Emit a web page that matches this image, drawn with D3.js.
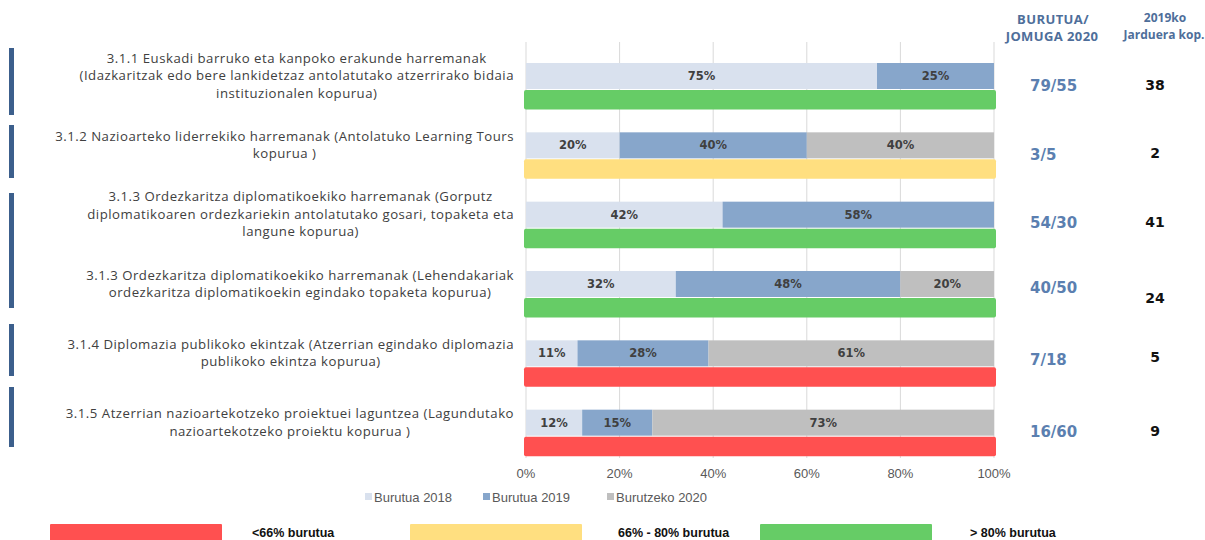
<!DOCTYPE html>
<html>
<head>
<meta charset="utf-8">
<script src="https://cdn.jsdelivr.net/npm/d3@7"></script>
<style>
    body { margin: 0; background: #fff; }
    svg { display: block; }
    .cat-label { font-family: "Open Sans", sans-serif; font-size: 13.2px; letter-spacing: 0.5px; fill: #404040; }
    .seg-label { font-family: "DejaVu Sans", sans-serif; font-size: 11.5px; font-weight: bold; fill: #404040; }
    .tick-label { font-family: "Liberation Sans", Arial, sans-serif; font-size: 13px; fill: #595959; }
    .legend-label { font-family: "Liberation Sans", Arial, sans-serif; font-size: 13px; fill: #595959; }
    .head { font-family: "Open Sans", sans-serif; font-size: 12px; font-weight: bold; fill: #4E6E9A; }
    .head-wide { font-size: 13px; letter-spacing: 0.4px; }
    .ratio { font-family: "DejaVu Sans", sans-serif; font-size: 15px; font-weight: bold; fill: #5B7FB0; }
    .count { font-family: "DejaVu Sans", sans-serif; font-size: 14px; font-weight: bold; fill: #111; }
    .status-label { font-family: "Liberation Sans Narrow", "Liberation Sans", sans-serif; font-size: 12.5px; font-weight: bold; fill: #111; }
</style>
</head>
<body>
<div id="chart"></div>
<script>
(function() {
    // ---- data ----
    var categories = [
        ['3.1.1 Euskadi barruko eta kanpoko erakunde harremanak',
         '(Idazkaritzak edo bere lankidetzaz antolatutako atzerrirako bidaia',
         'instituzionalen kopurua)'],
        ['3.1.2 Nazioarteko liderrekiko harremanak (Antolatuko Learning Tours',
         'kopurua )'],
        ['3.1.3 Ordezkaritza diplomatikoekiko harremanak (Gorputz',
         'diplomatikoaren ordezkariekin antolatutako gosari, topaketa eta',
         'langune kopurua)'],
        ['3.1.3 Ordezkaritza diplomatikoekiko harremanak (Lehendakariak',
         'ordezkaritza diplomatikoekin egindako topaketa kopurua)'],
        ['3.1.4 Diplomazia publikoko ekintzak (Atzerrian egindako diplomazia',
         'publikoko ekintza kopurua)'],
        ['3.1.5 Atzerrian nazioartekotzeko proiektuei laguntzea (Lagundutako',
         'nazioartekotzeko proiektu kopurua )']
    ];
    var seriesNames = ['Burutua 2018', 'Burutua 2019', 'Burutzeko 2020'];
    var burutua2018 = [75, 20, 42, 32, 11, 12];
    var burutua2019 = [25, 40, 58, 48, 28, 15];
    var burutzeko2020 = [0, 40, 0, 20, 61, 73];
    var status = ['high', 'mid', 'high', 'high', 'low', 'low'];
    var ratios = ['79/55', '3/5', '54/30', '40/50', '7/18', '16/60'];
    var counts = ['38', '2', '41', '24', '5', '9'];
    var xTicks = [0, 20, 40, 60, 80, 100];
    var statusKeys = ['low', 'mid', 'high'];
    var statusNames = ['<66% burutua', '66% - 80% burutua', '> 80% burutua'];

    // ---- layout ----
    var width = 1205,
        height = 540,
        plot = { left: 526, right: 994, top: 42, bottom: 458 },
        label_right = 514,
        seriesColors = ['#D9E1EE', '#87A6CB', '#BFBFBF'],
        statusColors = { low: '#FF5050', mid: '#FFDF80', high: '#66CC66' },
        grid_color = '#D9D9D9',
        side_bar_color = '#3C5F8C';

    var svg = d3.select('#chart').append('svg')
        .attr('width', width)
        .attr('height', height);

    var rows = categories.map(function(c, i) {
        return {
            index: i,
            lines: c,
            s0: burutua2018[i],
            s1: burutua2019[i],
            s2: burutzeko2020[i],
            status: status[i]
        };
    });

    var x = d3.scaleLinear().domain([0, 100]).range([plot.left, plot.right]);
    var y = d3.scaleBand().domain(d3.range(rows.length)).range([plot.top, plot.bottom]);
    var bw = y.bandwidth();

    // gridlines
    svg.append('g').selectAll('line')
        .data(xTicks)
        .enter().append('line')
        .attr('x1', function(d) { return x(d); })
        .attr('x2', function(d) { return x(d); })
        .attr('y1', plot.top)
        .attr('y2', plot.bottom)
        .attr('stroke', grid_color)
        .attr('stroke-width', 1);

    // x axis labels
    svg.append('g').selectAll('text')
        .data(xTicks)
        .enter().append('text')
        .attr('class', 'tick-label')
        .attr('x', function(d) { return x(d); })
        .attr('y', 478)
        .attr('text-anchor', 'middle')
        .text(function(d) { return d + '%'; });

    // stacked bars
    var stack = d3.stack().keys(['s0', 's1', 's2']);
    var layers = stack(rows);

    var layerG = svg.append('g').selectAll('g')
        .data(layers)
        .enter().append('g')
        .attr('fill', function(d, i) { return seriesColors[i]; });

    layerG.selectAll('rect')
        .data(function(d) { return d; })
        .enter().append('rect')
        .attr('x', function(d) { return x(d[0]); })
        .attr('y', function(d) { return y(d.data.index) + 21; })
        .attr('width', function(d) { return x(d[1]) - x(d[0]); })
        .attr('height', 26);

    layerG.selectAll('text')
        .data(function(d) { return d.filter(function(e) { return e[1] - e[0] > 0; }); })
        .enter().append('text')
        .attr('class', 'seg-label')
        .attr('x', function(d) { return (x(d[0]) + x(d[1])) / 2; })
        .attr('y', function(d) { return y(d.data.index) + 34; })
        .attr('dy', '0.35em')
        .attr('text-anchor', 'middle')
        .text(function(d) { return Math.round(d[1] - d[0]) + '%'; });

    // status bars
    svg.append('g').selectAll('rect')
        .data(rows)
        .enter().append('rect')
        .attr('x', x(0) - 2)
        .attr('y', function(d) { return y(d.index) + 48; })
        .attr('width', x(100) - x(0) + 4)
        .attr('height', 19.5)
        .attr('rx', 2)
        .attr('fill', function(d) { return statusColors[d.status]; });

    // category labels: block is centred, widest line ends at label_right
    var lineH = 17.5;
    var catG = svg.append('g').selectAll('text')
        .data(rows)
        .enter().append('text')
        .attr('class', 'cat-label')
        .attr('text-anchor', 'middle');

    catG.each(function(d) {
        var t = d3.select(this),
            n = d.lines.length,
            cy = y(d.index) + bw / 2 - 1;
        var spans = d.lines.map(function(line, j) {
            return t.append('tspan')
                .attr('y', cy + (j - (n - 1) / 2) * lineH)
                .attr('dy', '0.35em')
                .text(line);
        });
        var maxW = d3.max(spans, function(s) { return s.node().getComputedTextLength(); });
        spans.forEach(function(s) { s.attr('x', label_right - maxW / 2); });
    });

    // left side bars
    var sideH = [67, 53, 115, 52, 60];
    var sideTop = [48, 125, 193, 324, 387];
    svg.append('g').selectAll('rect')
        .data(sideTop)
        .enter().append('rect')
        .attr('x', 9)
        .attr('y', function(d) { return d; })
        .attr('width', 5)
        .attr('height', function(d, i) { return sideH[i]; })
        .attr('fill', side_bar_color);

    // headers on right
    var h1 = svg.append('text').attr('class', 'head head-wide').attr('text-anchor', 'middle');
    h1.append('tspan').attr('x', 1053).attr('y', 24).text('BURUTUA/');
    h1.append('tspan').attr('x', 1052).attr('y', 41).text('JOMUGA 2020');
    var h2 = svg.append('text').attr('class', 'head').attr('text-anchor', 'middle');
    h2.append('tspan').attr('x', 1165).attr('y', 22).text('2019ko');
    h2.append('tspan').attr('x', 1164).attr('y', 39).text('Jarduera kop.');

    // ratio and count columns
    var ratioDy = [9, 9, 7.5, 3, 5.5, 8];
    var countDy = [8, 7, 6.5, 13, 3.5, 8];
    svg.append('g').selectAll('text')
        .data(ratios)
        .enter().append('text')
        .attr('class', 'ratio')
        .attr('x', 1030)
        .attr('y', function(d, i) { return y(i) + bw / 2 + ratioDy[i]; })
        .attr('dy', '0.35em')
        .text(function(d) { return d; });

    svg.append('g').selectAll('text')
        .data(counts)
        .enter().append('text')
        .attr('class', 'count')
        .attr('x', 1155)
        .attr('y', function(d, i) { return y(i) + bw / 2 + countDy[i]; })
        .attr('dy', '0.35em')
        .attr('text-anchor', 'middle')
        .text(function(d) { return d; });

    // series legend
    var legX = [365, 483, 607];
    var leg = svg.append('g').selectAll('g')
        .data(seriesNames)
        .enter().append('g')
        .attr('transform', function(d, i) { return 'translate(' + legX[i] + ',497)'; });
    leg.append('rect')
        .attr('x', 0).attr('y', -4)
        .attr('width', 7).attr('height', 7)
        .attr('fill', function(d, i) { return seriesColors[i]; });
    leg.append('text')
        .attr('class', 'legend-label')
        .attr('x', 9)
        .attr('y', 0)
        .attr('dy', '0.35em')
        .text(function(d) { return d; });

    // status legend
    var stX = [50, 410, 760];
    var stTextX = [252, 618, 970];
    var st = svg.append('g').selectAll('g')
        .data(statusKeys)
        .enter().append('g');
    st.append('rect')
        .attr('x', function(d, i) { return stX[i]; })
        .attr('y', 524)
        .attr('width', 172)
        .attr('height', 20)
        .attr('rx', 1)
        .attr('fill', function(d) { return statusColors[d]; });
    st.append('text')
        .attr('class', 'status-label')
        .attr('x', function(d, i) { return stTextX[i]; })
        .attr('y', 537)
        .text(function(d, i) { return statusNames[i]; });
})();
</script>
</body>
</html>
